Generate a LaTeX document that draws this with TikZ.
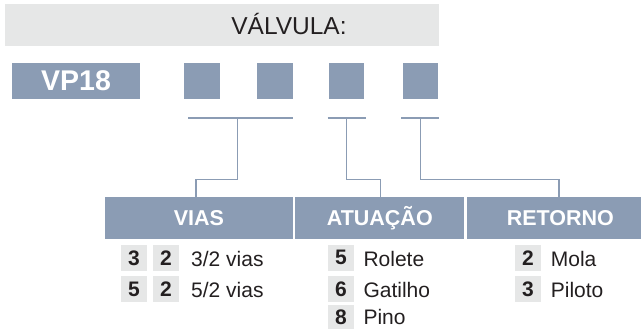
\documentclass[tikz,border=0pt]{standalone}
\usepackage{fontspec}
\setmainfont{Liberation Sans}
\definecolor{blu}{RGB}{139,156,180}
\definecolor{lgray}{RGB}{230,231,231}
\definecolor{txt}{RGB}{35,31,32}
\begin{document}
\begin{tikzpicture}[x=1pt,y=-1pt,
  bluebox/.style={fill=blu, draw=none, inner sep=0pt, text=white,
    font=\fontsize{21.5}{21.5}\selectfont\bfseries},
  sq/.style={fill=blu, draw=none, inner sep=0pt, minimum width=35.5pt, minimum height=36pt},
  dbox/.style={fill=lgray, draw=none, inner sep=0pt, minimum width=25.7pt, minimum height=25.7pt,
    text=txt, font=\fontsize{21}{21}\selectfont\bfseries},
  lbl/.style={inner sep=0pt, anchor=base west, text=txt, font=\fontsize{21}{21}\selectfont},
  conn/.style={draw=blu, line width=1.3pt}]
\clip (0,0) rectangle (641,329);
% header
\node[fill=lgray, draw=none, inner sep=0pt, minimum width=433.7pt, minimum height=41.7pt] (header) at (221.85,24.85) {};
\node[inner sep=0pt, anchor=base, text=txt, font=\fontsize{24.5}{24.5}\selectfont] (title) at (289,35) {VÁLVULA:};
% code row
\node[bluebox, minimum width=128pt, minimum height=36pt, font=\fontsize{28.5}{28.5}\selectfont\bfseries] (vp) at (76,81) {VP18};
\node[sq] (s1) at (201.85,81) {};
\node[sq] (s2) at (275,81) {};
\node[sq] (s3) at (346.5,81) {};
\node[sq] (s4) at (420.5,81) {};
% category boxes
\node[bluebox, minimum width=187.7pt, minimum height=42pt] (vias) at (198.85,218.3) {VIAS};
\node[bluebox, minimum width=169pt, minimum height=42pt] (atu) at (379.8,218.3) {ATUAÇÃO};
\node[bluebox, minimum width=187.3pt, minimum height=42pt] (ret) at (560.35,218.3) {RETORNO};
% brackets
\coordinate (b1l) at (188,118); \coordinate (b1r) at (293.3,118); \coordinate (k1) at (237.3,118); \coordinate (m1) at (196,179.7);
\coordinate (b2l) at (327.7,118); \coordinate (b2r) at (365.7,118); \coordinate (k2) at (346.7,118); \coordinate (m2) at (380.7,179.7);
\coordinate (b3l) at (401,118); \coordinate (b3r) at (439,118); \coordinate (k3) at (420.7,118); \coordinate (m3) at (559,179.7);
\draw[conn] (b1l) -- (b1r);
\draw[conn] (b2l) -- (b2r);
\draw[conn] (b3l) -- (b3r);
\draw[conn] (k1) |- (m1) -- (m1 |- vias.north);
\draw[conn] (k2) |- (m2) -- (m2 |- atu.north);
\draw[conn] (k3) |- (m3) -- (m3 |- ret.north);
% VIAS options
\node[dbox] (v1a) at (134,257.85) {3};
\node[dbox] (v1b) at (165.85,257.85) {2};
\node[lbl] (v1t) at (191,266.5) {3/2 vias};
\node[dbox] (v2a) at (134,289) {5};
\node[dbox] (v2b) at (165.85,289) {2};
\node[lbl] (v2t) at (191,297) {5/2 vias};
% ATUACAO options
\node[dbox] (a1) at (341,257.85) {5};
\node[lbl] (a1t) at (363.3,266.5) {Rolete};
\node[dbox] (a2) at (341,289) {6};
\node[lbl] (a2t) at (363.3,297) {Gatilho};
\node[dbox] (a3) at (341,317.5) {8};
\node[lbl] (a3t) at (363.3,324.3) {Pino};
% RETORNO options
\node[dbox] (r1) at (527.85,257.85) {2};
\node[lbl] (r1t) at (550.7,266.5) {Mola};
\node[dbox] (r2) at (527.85,289) {3};
\node[lbl] (r2t) at (550.7,297) {Piloto};
\end{tikzpicture}
\end{document}
